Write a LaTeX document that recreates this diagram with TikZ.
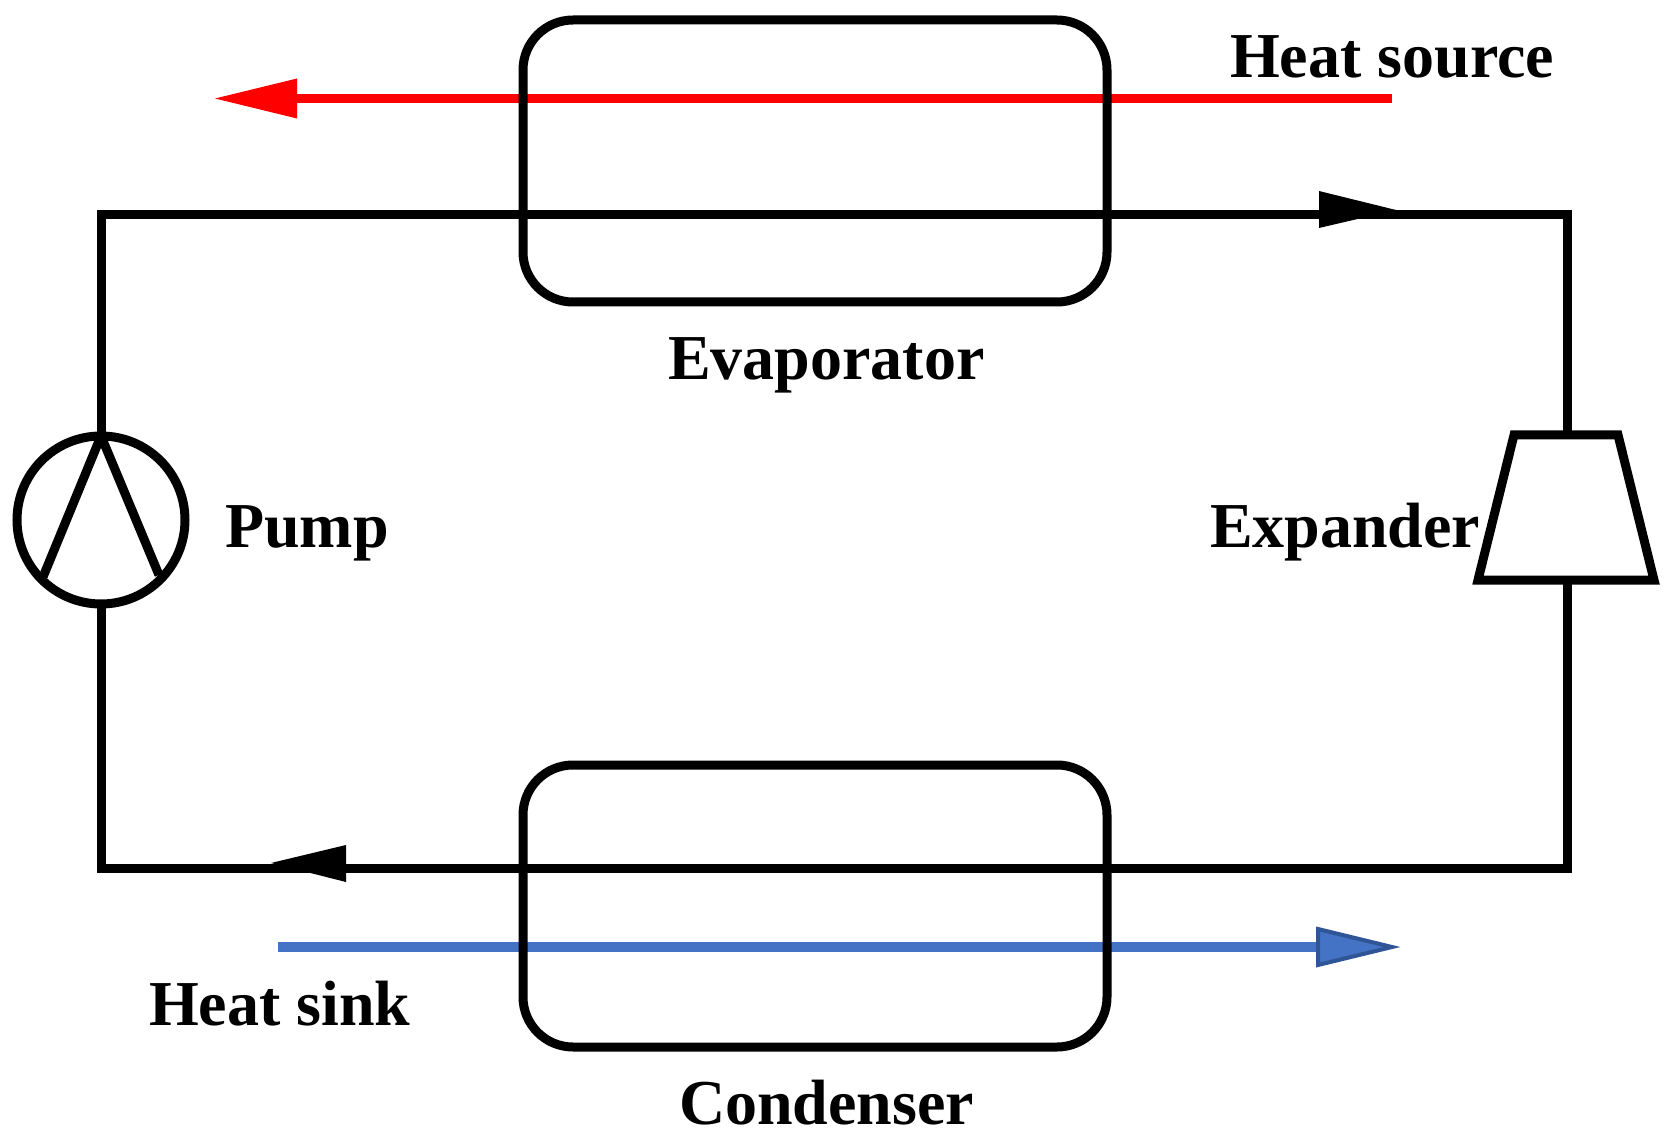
\documentclass[tikz,border=0pt]{standalone}
\usepackage{fontspec}
\setmainfont{Liberation Serif}
\definecolor{sinkblue}{HTML}{4472C4}
\definecolor{sinkedge}{HTML}{2F5597}
\tikzset{
  pipe/.style={draw=black,line width=9pt,line join=miter},
  hx/.style={draw=black,line width=9pt,line join=round,rounded corners=50pt,minimum width=584pt,minimum height=282pt,inner sep=0pt,outer sep=0pt},
  lbl/.style={anchor=base west,font=\fontsize{64pt}{70pt}\selectfont\bfseries,inner sep=0pt,outer sep=0pt},
  head/.style={fill=black,draw=none}
}
\begin{document}
\begin{tikzpicture}[x=1pt,y=-1pt]
\useasboundingbox (0,0) rectangle (1671,1139);
% heat source arrow
\coordinate (hsA) at (1392,98.5);
\coordinate (hsB) at (295,98.5);
\draw[red,line width=9pt] (hsA) -- (hsB);
\fill[red] (297,78.5) -- (215,98.5) -- (297,118.5) -- cycle;
% heat sink arrow
\coordinate (skA) at (278,947);
\coordinate (skB) at (1318,947);
\draw[sinkblue,line width=9.5pt] (skA) -- (skB);
\draw[sinkedge,fill=sinkblue,line width=4pt,miter limit=10] (1318,929) -- (1392,947) -- (1318,965) -- cycle;
% exchangers
\node[hx] (evap) at (815,161) {};
\node[hx] (cond) at (815,906) {};
% pump
\node[draw=black,line width=9pt,circle,minimum size=168pt,inner sep=0pt,outer sep=0pt] (pump) at (101,520) {};
\coordinate (bladeL) at (43,577);
\coordinate (bladeR) at (159,575);
\draw[pipe] (bladeL) -- (pump.north) -- (bladeR);
% expander
\coordinate (exTL) at (1514,435);
\coordinate (exTR) at (1618,435);
\coordinate (exBR) at (1654,580);
\coordinate (exBL) at (1478,580);
\coordinate (exT) at (1567,435);
\coordinate (exB) at (1567,580);
\draw[pipe] (exTL) -- (exTR) -- (exBR) -- (exBL) -- cycle;
% loop
\coordinate (cTL) at (101,215);
\coordinate (cTR) at (1567,215);
\coordinate (cBR) at (1567,868);
\coordinate (cBL) at (101,868);
\draw[pipe] (pump.north) -- (cTL) -- (cTR) -- (exT);
\draw[pipe] (exB) -- (cBR) -- (cBL) -- (pump.south);
% flow arrowheads
\fill[head] (1319,191) -- (1396,210) -- (1319,228) -- cycle;
\fill[head] (346,845) -- (271,863) -- (346,882) -- cycle;
% labels
\node[lbl] (tsrc) at (1230,78) {Heat source};
\node[lbl] (tevap) at (668,380) {Evaporator};
\node[lbl] (tpump) at (225,547) {Pump};
\node[lbl] (texp) at (1210,547) {Expander};
\node[lbl] (tsink) at (149,1025) {Heat sink};
\node[lbl] (tcond) at (679,1124) {Condenser};
\end{tikzpicture}
\end{document}
